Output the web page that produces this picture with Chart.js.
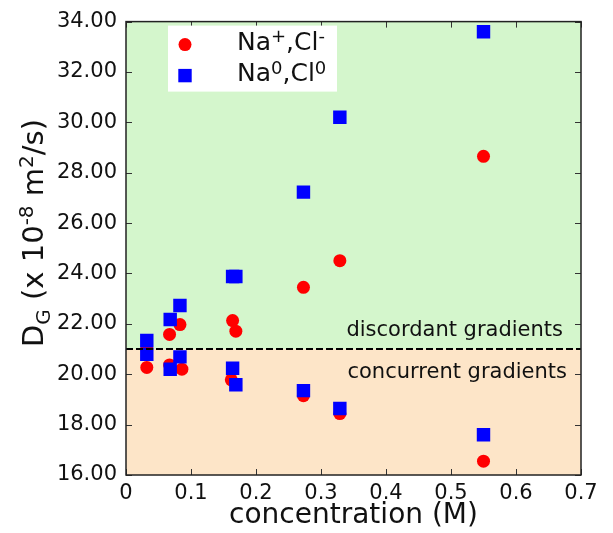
<!DOCTYPE html>
<html>
<head>
<meta charset="utf-8">
<script src="https://cdn.jsdelivr.net/npm/chart.js@4.4.0/dist/chart.umd.min.js"></script>
<style>
  html, body { margin: 0; padding: 0; background: #fff; }
</style>
</head>
<body>
<canvas id="chart" width="613" height="533"></canvas>
<script>
// values
const ionX = [0.032, 0.032, 0.067, 0.067, 0.083, 0.086, 0.164, 0.162, 0.169, 0.273, 0.273, 0.329, 0.329, 0.550, 0.550];
const ionY = [20.27, 21.00, 21.58, 20.37, 21.97, 20.20, 22.13, 19.78, 21.71, 23.45, 19.15, 24.51, 18.44, 28.65, 16.55];
const neutralX = [0.032, 0.032, 0.068, 0.068, 0.083, 0.083, 0.164, 0.164, 0.169, 0.169, 0.273, 0.273, 0.329, 0.329, 0.550, 0.550];
const neutralY = [21.34, 20.79, 22.17, 20.20, 22.73, 20.69, 23.88, 20.24, 23.88, 19.58, 27.23, 19.35, 30.20, 18.64, 33.60, 17.60];

const boundary = 21;            // D_G where gradients switch
const xLimits = [0, 0.7];
const yLimits = [16, 34];
const upperLabel = 'discordant gradients';
const lowerLabel = 'concurrent gradients';

const FONT = '"DejaVu Sans", sans-serif';
const INK = '#111';
const colors = {
    ion: '#ff0000',
    neutral: '#0000ff',
    above: '#d4f6cc',
    below: '#fde5c8',
    frame: '#222'
};

function toPoints(xs, ys) {
    return xs.map((x, i) => ({ x: x, y: ys[i] }));
}

// text with sub/superscripts, drawn left to right from (x, y)
function drawRuns(ctx, runs, x, y) {
    let cx = x;
    runs.forEach(r => {
        ctx.font = r.size + 'px ' + FONT;
        ctx.fillText(r.text, cx, y + (r.shift || 0));
        cx += ctx.measureText(r.text).width;
    });
}

const decor = {
    id: 'decor',
    beforeDraw(chart) {
        const { ctx, chartArea: a, scales } = chart;
        const yb = scales.y.getPixelForValue(boundary);
        ctx.save();
        ctx.fillStyle = colors.above;
        ctx.fillRect(a.left, a.top, a.right - a.left, yb - a.top);
        ctx.fillStyle = colors.below;
        ctx.fillRect(a.left, yb, a.right - a.left, a.bottom - yb);
        ctx.restore();
    },
    afterDraw(chart) {
        const { ctx, chartArea: a, scales } = chart;
        const yb = Math.round(scales.y.getPixelForValue(boundary));
        ctx.save();

        // dashed boundary
        ctx.strokeStyle = '#000';
        ctx.lineWidth = 2;
        ctx.setLineDash([7, 3]);
        ctx.beginPath();
        ctx.moveTo(a.left, yb);
        ctx.lineTo(a.right, yb);
        ctx.stroke();
        ctx.setLineDash([]);

        // region labels
        ctx.fillStyle = INK;
        ctx.font = '21px ' + FONT;
        ctx.textAlign = 'right';
        ctx.textBaseline = 'alphabetic';
        ctx.fillText(upperLabel, a.right - 18, yb - 13);
        ctx.fillText(lowerLabel, a.right - 14, yb + 29);

        // inward ticks on all four sides
        ctx.strokeStyle = '#333';
        ctx.lineWidth = 1;
        const tl = 6;
        scales.y.ticks.forEach(t => {
            const py = Math.round(scales.y.getPixelForValue(t.value)) + 0.5;
            ctx.beginPath();
            ctx.moveTo(a.left, py); ctx.lineTo(a.left + tl, py);
            ctx.moveTo(a.right, py); ctx.lineTo(a.right - tl, py);
            ctx.stroke();
        });
        scales.x.ticks.forEach(t => {
            const px = Math.round(scales.x.getPixelForValue(t.value)) + 0.5;
            ctx.beginPath();
            ctx.moveTo(px, a.bottom); ctx.lineTo(px, a.bottom - tl);
            ctx.moveTo(px, a.top); ctx.lineTo(px, a.top + tl);
            ctx.stroke();
        });

        // frame
        ctx.strokeStyle = colors.frame;
        ctx.lineWidth = 1.5;
        ctx.strokeRect(a.left, a.top, a.right - a.left, a.bottom - a.top);

        // legend
        const lx = a.left + 42, ly = a.top + 4;
        ctx.fillStyle = '#fff';
        ctx.fillRect(lx, ly, 169, 66);
        ctx.fillStyle = colors.ion;
        ctx.beginPath();
        ctx.arc(lx + 17, ly + 19, 6.5, 0, Math.PI * 2);
        ctx.fill();
        ctx.fillStyle = colors.neutral;
        ctx.fillRect(lx + 17 - 6.7, ly + 50 - 6.7, 13.4, 13.4);
        ctx.fillStyle = INK;
        ctx.textAlign = 'left';
        drawRuns(ctx, [
            { text: 'Na', size: 25 },
            { text: '+', size: 18, shift: -8 },
            { text: ',Cl', size: 25 },
            { text: '-', size: 18, shift: -8 }
        ], lx + 69, ly + 24);
        drawRuns(ctx, [
            { text: 'Na', size: 25 },
            { text: '0', size: 18, shift: -7 },
            { text: ',Cl', size: 25 },
            { text: '0', size: 18, shift: -7 }
        ], lx + 69, ly + 55);

        // y axis title: D_G (x 10^-8 m^2/s)
        ctx.translate(43, a.bottom - 128);
        ctx.rotate(-Math.PI / 2);
        drawRuns(ctx, [
            { text: 'D', size: 29 },
            { text: 'G', size: 20, shift: 7 },
            { text: ' (x 10', size: 29 },
            { text: '-8', size: 20, shift: -10 },
            { text: ' m', size: 29 },
            { text: '2', size: 20, shift: -10 },
            { text: '/s)', size: 29 }
        ], 0, 0);

        ctx.restore();
    }
};

Chart.defaults.font.family = FONT;
Chart.defaults.color = INK;

new Chart(document.getElementById('chart').getContext('2d'), {
    type: 'scatter',
    data: {
        datasets: [
            {
                label: 'Na+,Cl-',
                data: toPoints(ionX, ionY),
                pointStyle: 'circle',
                pointRadius: 6.5,
                pointHoverRadius: 6.5,
                pointBorderWidth: 0,
                backgroundColor: colors.ion,
                borderColor: colors.ion,
                order: 2
            },
            {
                label: 'Na0,Cl0',
                data: toPoints(neutralX, neutralY),
                pointStyle: 'rect',
                pointRadius: 9.5,
                pointHoverRadius: 9.5,
                pointBorderWidth: 0,
                backgroundColor: colors.neutral,
                borderColor: colors.neutral,
                order: 1
            }
        ]
    },
    options: {
        responsive: false,
        animation: false,
        layout: {
            padding: { top: 19, right: 32, left: 0, bottom: 0 }
        },
        plugins: {
            legend: { display: false },
            tooltip: { enabled: false }
        },
        scales: {
            x: {
                type: 'linear',
                min: xLimits[0],
                max: xLimits[1],
                grid: { display: false, drawTicks: false },
                border: { display: false },
                ticks: {
                    stepSize: 0.1,
                    padding: 6,
                    font: { size: 21 },
                    callback: function(value) {
                        return value === 0 ? '0' : value.toFixed(1);
                    }
                },
                title: {
                    display: true,
                    text: 'concentration (M)',
                    font: { size: 28 },
                    padding: { top: 0, bottom: 0 }
                },
                afterFit: function(scale) { scale.height = 58; }
            },
            y: {
                type: 'linear',
                min: yLimits[0],
                max: yLimits[1],
                grid: { display: false, drawTicks: false },
                border: { display: false },
                ticks: {
                    stepSize: 2,
                    padding: 9,
                    font: { size: 21 },
                    callback: function(value) {
                        return value.toFixed(2);
                    }
                },
                afterFit: function(scale) { scale.width = 126; }
            }
        }
    },
    plugins: [decor]
});
</script>
</body>
</html>
